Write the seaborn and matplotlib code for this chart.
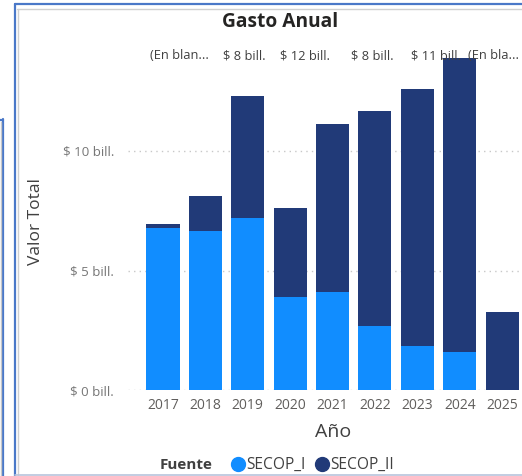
import matplotlib
matplotlib.use("Agg")
import matplotlib.pyplot as plt
from matplotlib.lines import Line2D
import seaborn as sns
import pandas as pd

# ---- data (values in billions) ----
years = ["2017", "2018", "2019", "2020", "2021", "2022", "2023", "2024", "2025"]
secop_i = [6.78, 6.65, 7.20, 3.90, 4.10, 2.68, 1.84, 1.59, 0.0]
secop_ii = [0.17, 1.47, 5.10, 3.70, 7.03, 9.00, 10.75, 12.30, 3.26]
top_labels = ["(En blan...", "$ 8 bill.", "$ 12 bill.", "$ 8 bill.", "$ 11 bill.", "(En bla..."]
top_label_pos = [0.38, 1.93, 3.35, 4.95, 6.44, 7.80]
yticks = [0, 5, 10]
ytick_labels = ["$ 0 bill.", "$ 5 bill.", "$ 10 bill."]

C_I = "#118DFF"
C_II = "#213A78"

sns.set_style("white")
plt.rcParams["font.family"] = ["Open Sans", "DejaVu Sans"]

W, H = 522, 476
fig = plt.figure(figsize=(W / 100, H / 100), dpi=100)

def fx(px):
    return px / W

def fy(py):
    return 1 - py / H

# axes: left 128px, right 522px, bottom y=390, top y=40
ax = fig.add_axes([fx(128), fy(390), fx(522) - fx(128), (390 - 40) / H])

df = pd.DataFrame({"Año": years, "SECOP_I": secop_i, "SECOP_II": secop_ii})
df["Total"] = df["SECOP_I"] + df["SECOP_II"]

sns.barplot(data=df, x="Año", y="Total", color=C_II, width=0.78, ax=ax,
            saturation=1, edgecolor="none", zorder=3)
sns.barplot(data=df, x="Año", y="SECOP_I", color=C_I, width=0.78, ax=ax,
            saturation=1, edgecolor="none", zorder=3)

ax.set_xlim(-0.825, 8.47)
ax.set_ylim(0, 350 / 23.9)
ax.set_yticks(yticks)
ax.set_yticklabels(ytick_labels)
for y in yticks:
    ax.axhline(y, color="#c8c8c8", lw=1, ls=(0, (1, 3)), zorder=1)

for s in ax.spines.values():
    s.set_visible(False)
ax.tick_params(axis="y", length=0, pad=10, labelsize=9.6, labelcolor="#777777")
ax.tick_params(axis="x", length=0, pad=6, labelsize=10, labelcolor="#605E5C")
ax.set_xlabel("Año", fontsize=14, color="#404040")
ax.set_ylabel("Valor Total", fontsize=12.5, color="#404040")
ax.yaxis.set_label_coords(-(128 - 44) / 394, (390 - 222) / 350)
ax.xaxis.set_label_coords((333 - 128) / 394, -(423 - 390) / 350)

# top labels
for lab, p in zip(top_labels, top_label_pos):
    ax.text(p, 1 - (56 - 40) / 350, lab, transform=ax.get_xaxis_transform(),
            ha="center", va="center", fontsize=9.3, color="#404040", zorder=5)

# title
fig.text(fx(280), fy(22), "Gasto Anual", ha="center", va="center",
         fontsize=13.8, fontweight="bold", color="#252423")

# legend
fig.text(fx(160), fy(465), "Fuente", ha="left", va="center", fontsize=11,
         fontweight="bold", color="#404040")
handles = [Line2D([], [], marker="o", ls="none", color=C_I, markersize=10),
           Line2D([], [], marker="o", ls="none", color=C_II, markersize=10)]
fig.legend(handles, ["SECOP_I", "SECOP_II"], loc="center left",
           bbox_to_anchor=(fx(221), fy(465)), ncol=2, frameon=False,
           fontsize=11.2, handletextpad=-0.1, columnspacing=0.5,
           handlelength=1.2, borderpad=0, labelcolor="#404040")

# frame decorations
def hline(y, x0, x1, color, lw):
    fig.add_artist(Line2D([fx(x0), fx(x1)], [fy(y), fy(y)], color=color, lw=lw))

def vline(x, y0, y1, color, lw):
    fig.add_artist(Line2D([fx(x), fx(x)], [fy(y0), fy(y1)], color=color, lw=lw))

BLUE = "#4A78C8"
hline(3.5, 14.5, 522, BLUE, 1.6)
hline(9, 17, 522, "#d0d0d0", 1.0)
vline(14.5, 3.5, 476, BLUE, 1.6)
vline(17.5, 9, 476, "#d0d0d0", 1.0)
hline(474.5, 15, 522, "#b8c4dc", 1.2)
vline(2.5, 119, 476, BLUE, 1.6)
hline(119.5, 0, 3, BLUE, 1.6)
vline(0.5, 122, 476, "#c8c8c8", 1.0)

fig.savefig("out.png", dpi=100)
